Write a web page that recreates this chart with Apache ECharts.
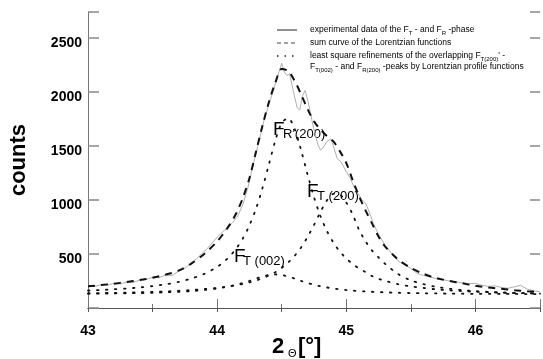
<!DOCTYPE html>
<html><head><meta charset="utf-8">
<script src="https://cdn.jsdelivr.net/npm/echarts@6/dist/echarts.min.js"></script>
<style>html,body{margin:0;padding:0;background:#fff;}#c{width:543px;height:359px;}</style>
</head><body><div id="c"></div>
<script>
// Shared x grid (2Θ in degrees) for the fitted curves
var xs = [43.0,43.1,43.2,43.3,43.4,43.5,43.6,43.7,43.8,43.9,44.0,44.05,44.1,44.15,44.2,44.25,44.3,44.35,44.4,44.45,44.5,44.55,44.6,44.65,44.7,44.75,44.8,44.85,44.9,44.95,45.0,45.05,45.1,45.15,45.2,45.25,45.3,45.4,45.5,45.6,45.7,45.8,45.9,46.0,46.1,46.2,46.3,46.4,46.5];
// Sum curve of the Lorentzian functions
var sumCurve = [200,212,225,240,258,280,308,345,410,500,615,690,775,880,1020,1200,1440,1680,1900,2080,2210,2190,2100,1975,1840,1725,1650,1590,1540,1450,1340,1180,1030,900,780,660,570,450,370,315,275,250,228,205,190,178,165,155,148];
// F_R'(200) Lorentzian
var peakR200 = [161,166,173,180,190,203,219,241,272,315,380,425,481,553,645,764,915,1104,1323,1545,1711,1755,1656,1459,1234,1024,850,712,605,522,457,406,365,332,295,270,252,220,200,185,172,163,156,150,146,142,139,137,135];
// F_T(200) Lorentzian
var peakT200 = [136,138,140,142,145,149,153,159,166,175,186,193,202,212,223,237,254,275,300,331,371,420,482,560,656,768,888,994,1054,1048,975,863,720,615,530,468,409,315,255,220,195,178,165,156,149,143,139,136,133];
// F_T(002) Lorentzian
var peakT002 = [132,133,135,136,138,141,145,150,156,166,180,190,201,215,232,251,272,291,305,310,305,291,272,251,232,215,201,190,180,172,166,161,156,153,150,147,145,141,138,136,135,133,132,131,131,130,130,129,129];
// Experimental data
var expX = [43.00,43.05,43.10,43.15,43.20,43.25,43.30,43.35,43.40,43.45,43.50,43.55,43.60,43.65,43.70,43.75,43.80,43.84,43.88,43.92,43.96,44.00,44.04,44.08,44.12,44.16,44.20,44.24,44.28,44.32,44.36,44.40,44.44,44.47,44.50,44.52,44.54,44.56,44.58,44.60,44.62,44.64,44.66,44.68,44.70,44.72,44.74,44.76,44.78,44.80,44.82,44.85,44.88,44.90,44.93,44.96,45.00,45.03,45.06,45.09,45.12,45.15,45.18,45.21,45.25,45.30,45.34,45.38,45.42,45.46,45.50,45.55,45.60,45.65,45.70,45.75,45.80,45.85,45.90,45.95,46.00,46.05,46.10,46.15,46.20,46.25,46.30,46.35,46.40,46.45,46.50];
var expY = [205,198,215,210,228,222,240,236,258,262,285,280,305,300,340,365,420,455,500,545,600,655,700,745,790,850,960,1120,1330,1520,1720,1880,2030,2150,2262,2180,2150,2165,2060,1950,1850,1830,1960,2010,1930,1820,1700,1600,1510,1460,1480,1540,1560,1500,1380,1350,1260,1200,1120,1060,1000,970,880,780,680,580,520,460,420,395,365,320,300,285,270,262,248,240,232,225,228,210,200,205,190,182,195,210,175,160,150];
// Axis tick labels
var xTickLabels = [43,44,45,46];
var yTickLabels = [500,1000,1500,2000,2500];

function pairs(xa, ya){ return xa.map(function(x,i){ return [x, ya[i]]; }); }

var FONT = "'Liberation Sans', Arial, sans-serif";
var chart = echarts.init(document.getElementById('c'), null, {renderer:'canvas'});
var dotted = {color:'#111', width:1.8, type:[1.5,7.5], cap:'round'};
var subRich = {m:{font:'8.5px '+FONT, fill:'#000', lineHeight:11, verticalAlign:'top'}, s:{font:'6px '+FONT, fill:'#000', lineHeight:11, verticalAlign:'bottom'}};
var option = {
  animation:false,
  backgroundColor:'#fff',
  grid:{left:86, top:12, width:455, height:296},
  xAxis:[
    {type:'value', min:43, max:46.5, interval:1, position:'bottom',
     axisLine:{lineStyle:{color:'#777', width:1}},
     axisTick:{inside:true, length:9, lineStyle:{color:'#777'}},
     minorTick:{show:true, splitNumber:2, length:4, lineStyle:{color:'#777'}},
     splitLine:{show:false}, minorSplitLine:{show:false},
     axisLabel:{margin:16, fontSize:14, fontWeight:'bold', color:'#000', fontFamily:FONT,
       formatter:function(v){ return xTickLabels.indexOf(v) >= 0 ? String(v) : ''; }}},
    {type:'value', min:43, max:46.5, interval:0.5, position:'top',
     axisLine:{lineStyle:{color:'#555', width:1}},
     axisTick:{inside:true, length:4, lineStyle:{color:'#555'}},
     axisLabel:{show:false}, splitLine:{show:false}}
  ],
  yAxis:[
    {type:'value', min:0, max:2736, interval:500, position:'left',
     axisLine:{show:true, lineStyle:{color:'#777', width:1}},
     axisTick:{inside:true, length:11, lineStyle:{color:'#888', width:1.5}},
     splitLine:{show:false},
     axisLabel:{margin:6, fontSize:14, fontWeight:'bold', color:'#000', fontFamily:FONT, verticalAlign:'top', lineHeight:11,
       formatter:function(v){ return yTickLabels.indexOf(v) >= 0 ? String(v) : ''; }},
     name:'counts', nameLocation:'middle', nameGap:58, nameRotate:90,
     nameTextStyle:{fontSize:22, fontWeight:'bold', color:'#000', fontFamily:FONT}},
    {type:'value', min:0, max:2736, interval:500, position:'right',
     axisLine:{show:false},
     axisTick:{show:true, inside:true, length:10, lineStyle:{color:'#888', width:1.5}},
     axisLabel:{show:false}, splitLine:{show:false}}
  ],
  series:[
    {type:'line', name:'exp', data:pairs(expX, expY), showSymbol:false, z:2,
     lineStyle:{color:'#b0b0b0', width:1}},
    {type:'line', name:'sum', data:pairs(xs, sumCurve), showSymbol:false, smooth:0.3, z:3,
     lineStyle:{color:'#111', width:2, type:[7,6]}},
    {type:'line', name:'R200', data:pairs(xs, peakR200), showSymbol:false, smooth:0.3, z:3, lineStyle:dotted},
    {type:'line', name:'T200', data:pairs(xs, peakT200), showSymbol:false, smooth:0.3, z:3, lineStyle:dotted},
    {type:'line', name:'T002', data:pairs(xs, peakT002), showSymbol:false, smooth:0.3, z:3, lineStyle:dotted}
  ],
  graphic:[
    // x axis title
    {type:'text', left:272, top:336, style:{text:'2', font:'bold 22px '+FONT, fill:'#000'}},
    {type:'text', left:288, top:348, style:{text:'Θ', font:'11px '+FONT, fill:'#000'}},
    {type:'text', left:298, top:336, style:{text:'[°]', font:'bold 22px '+FONT, fill:'#000'}},
    // peak labels
    {type:'text', left:273, top:120, style:{text:'F', font:'19px '+FONT, fill:'#000'}},
    {type:'text', left:283, top:128, style:{text:"R'(200)", font:'13px '+FONT, fill:'#000'}},
    {type:'text', left:307, top:182, style:{text:'F', font:'19px '+FONT, fill:'#000'}},
    {type:'text', left:317, top:190, style:{text:'T (200)', font:'13px '+FONT, fill:'#000'}},
    {type:'text', left:234, top:247, style:{text:'F', font:'19px '+FONT, fill:'#000'}},
    {type:'text', left:243, top:255, style:{text:'T (002)', font:'13px '+FONT, fill:'#000'}},
    // legend samples
    {type:'line', shape:{x1:277, y1:30, x2:297, y2:30}, style:{stroke:'#222', lineWidth:1}},
    {type:'line', shape:{x1:277, y1:43, x2:298, y2:43}, style:{stroke:'#444', lineWidth:1, lineDash:[4,3]}},
    {type:'line', shape:{x1:277, y1:56, x2:298, y2:56}, style:{stroke:'#222', lineWidth:1.5, lineDash:[1.5,6]}},
    // legend texts
    {type:'text', left:310, top:25, style:{text:'{m|experimental data of the F}{s|T}{m| - and F}{s|R}{m| -phase}', rich:subRich}},
    {type:'text', left:310, top:38, style:{text:'sum curve of the Lorentzian functions', font:'8.5px '+FONT, fill:'#000'}},
    {type:'text', left:310, top:51, style:{text:"{m|least square refinements of the overlapping F}{s|T(200)}{m|' -}", rich:subRich}},
    {type:'text', left:310, top:62, style:{text:'{m|F}{s|T(002)}{m| - and F}{s|R(200)}{m| -peaks by Lorentzian profile functions}', rich:subRich}}
  ]
};
chart.setOption(option);
</script>
</body></html>
